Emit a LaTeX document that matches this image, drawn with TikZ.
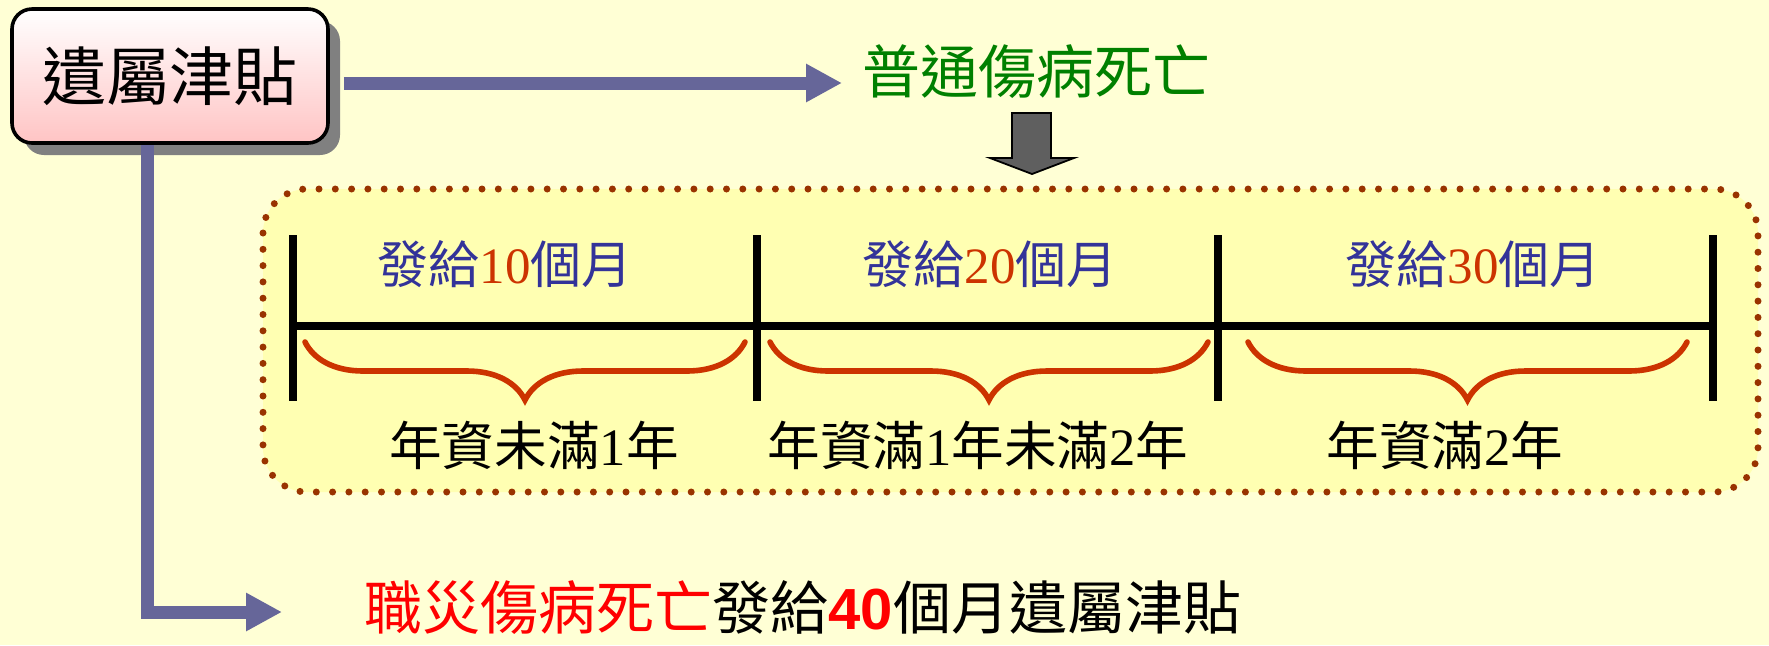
\documentclass[tikz,border=0pt]{standalone}
\usepackage{fontspec}
\setmainfont{Noto Sans CJK TC}
\newfontfamily\serifnum{Liberation Serif}
\newfontfamily\sansnum{Liberation Sans}
\usetikzlibrary{positioning,arrows.meta,shadows,decorations.pathreplacing}

\definecolor{bgcream}{RGB}{255,255,213}
\definecolor{panelyellow}{RGB}{255,255,178}
\definecolor{dotbrown}{RGB}{153,51,0}
\definecolor{linkblue}{RGB}{102,102,153}
\definecolor{boxpink}{RGB}{255,196,196}
\definecolor{labgreen}{RGB}{0,128,0}
\definecolor{labblue}{RGB}{51,51,153}
\definecolor{numred}{RGB}{204,51,0}
\definecolor{arrowgray}{RGB}{95,95,95}

\tikzset{
  mainbox/.style={draw=black, line width=1.8pt, rounded corners=10pt,
    top color=white, bottom color=boxpink,
    minimum width=158pt, minimum height=67pt,
    drop shadow={shadow xshift=6pt, shadow yshift=-6pt, fill=black!50, opacity=1},
    font=\fontsize{32}{36}\selectfont},
  link/.style={draw=linkblue, line width=6.5pt, -{Triangle[length=18pt,width=18pt]}},
  panel/.style={fill=panelyellow, draw=dotbrown, rounded corners=22pt,
    line width=3.5pt, line cap=round, dash pattern=on 0pt off 8.15pt},
  tickbar/.style={line width=4pt},
  span/.style={draw=numred, line width=2.8pt, line cap=round, decorate,
    decoration={brace, mirror, amplitude=29pt}},
  toplabel/.style={text=labblue, inner sep=0pt, font=\fontsize{25.5}{30}\selectfont},
  lowlabel/.style={inner sep=0pt, font=\fontsize{26.3}{30}\selectfont},
}

\begin{document}
\begin{tikzpicture}[x=0.5pt, y=-0.5pt]
      % Background
      \useasboundingbox (0,0) rectangle (1769,645);
      \fill[bgcream] (0,0) rectangle (1769,645);

      % Define the dotted panel with the time line
      \draw[panel] (263,189) rectangle (1758,492);

      % Define the nodes
      \node[mainbox] (box) at (170,76) {遺屬津貼};
      \node[inner sep=0pt, text=labgreen, font=\fontsize{29}{34}\selectfont] (common) at (1036,72) {普通傷病死亡};
      \node[inner sep=0pt, font=\fontsize{29}{34}\selectfont] (duty) at (803,608)
        {\textcolor{red}{職災傷病死亡}發給{\sansnum\bfseries\color{red}40}個月遺屬津貼};
      \coordinate (uptip) at (842,83);
      \coordinate (lowtip) at (282,612);

      % Draw the arrows from the box
      \draw[link, shorten <=7pt] (box.east |- uptip) -- (uptip);
      \draw[link] ([xshift=-11.5pt]box.south) |- (lowtip);

      % Gray block arrow
      \draw[fill=arrowgray, line width=0.9pt, line join=miter]
        (1012,113) -- (1051,113) -- (1051,158) -- (1074,158) -- (1032,174)
        -- (990,158) -- (1012,158) -- cycle;

      % Time line
      \draw[tickbar] (293,326) -- (1713,326);
      \foreach \x in {293,757,1218,1713}
        \draw[tickbar] (\x,235) -- (\x,401);

      % Braces
      \draw[span] (305,342) -- (745,342);
      \draw[span] (770,342) -- (1208,342);
      \draw[span] (1248,342) -- (1687,342);

      % Labels above and below
      \node[toplabel] (pay1) at (505,264) {發給{\color{numred}\serifnum 10}個月};
      \node[toplabel] (pay2) at (990,264) {發給{\color{numred}\serifnum 20}個月};
      \node[toplabel] (pay3) at (1473,264) {發給{\color{numred}\serifnum 30}個月};
      \node[lowlabel] (year1) at (534,445) {年資未滿{\serifnum 1}年};
      \node[lowlabel] (year2) at (978,445) {年資滿{\serifnum 1}年未滿{\serifnum 2}年};
      \node[lowlabel] (year3) at (1445,445) {年資滿{\serifnum 2}年};
\end{tikzpicture}
\end{document}
